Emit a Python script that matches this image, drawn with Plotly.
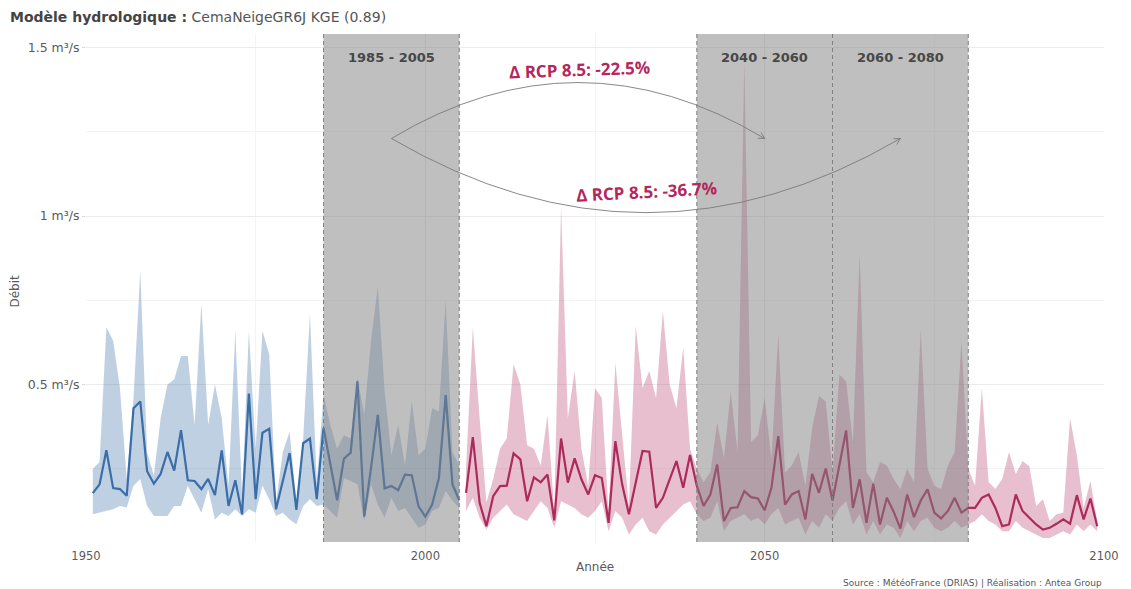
import math
import plotly.graph_objects as go

# ---------------- data ----------------
hist_years = list(range(1951, 2006))
hist_mean = [0.178, 0.204, 0.305, 0.193, 0.190, 0.170, 0.430, 0.450, 0.243, 0.206,
             0.235, 0.300, 0.245, 0.365, 0.216, 0.214, 0.190, 0.220, 0.172, 0.305,
             0.140, 0.216, 0.115, 0.473, 0.160, 0.357, 0.369, 0.130, 0.214, 0.297,
             0.128, 0.326, 0.340, 0.160, 0.372, 0.264, 0.157, 0.280, 0.298, 0.510,
             0.108, 0.253, 0.410, 0.192, 0.199, 0.187, 0.233, 0.231, 0.139, 0.108,
             0.144, 0.223, 0.469, 0.204, 0.157]
hist_upper = [0.25, 0.27, 0.67, 0.63, 0.49, 0.22, 0.46, 0.84, 0.30, 0.23,
              0.40, 0.50, 0.515, 0.585, 0.585, 0.38, 0.74, 0.38, 0.50, 0.40,
              0.20, 0.66, 0.17, 0.66, 0.31, 0.66, 0.59, 0.15, 0.30, 0.36,
              0.15, 0.34, 0.71, 0.21, 0.47, 0.38, 0.31, 0.35, 0.34, 0.52,
              0.41, 0.63, 0.79, 0.48, 0.29, 0.38, 0.26, 0.45, 0.29, 0.31,
              0.43, 0.42, 0.75, 0.30, 0.26]
hist_lower = [0.115, 0.12, 0.125, 0.13, 0.14, 0.135, 0.20, 0.22, 0.14, 0.11,
              0.11, 0.11, 0.14, 0.14, 0.20, 0.16, 0.12, 0.19, 0.10, 0.12,
              0.11, 0.13, 0.11, 0.13, 0.12, 0.20, 0.16, 0.11, 0.12, 0.10,
              0.086, 0.14, 0.16, 0.14, 0.144, 0.125, 0.105, 0.223, 0.214, 0.204,
              0.095, 0.204, 0.144, 0.105, 0.164, 0.125, 0.134, 0.105, 0.075, 0.085,
              0.125, 0.134, 0.184, 0.155, 0.134]

proj_years = list(range(2006, 2100))
proj_mean = [0.179, 0.344, 0.149, 0.080, 0.169, 0.199, 0.200, 0.296, 0.278, 0.154,
             0.225, 0.210, 0.233, 0.097, 0.340, 0.209, 0.281, 0.219, 0.174, 0.231,
             0.223, 0.090, 0.332, 0.204, 0.115, 0.204, 0.303, 0.301, 0.134, 0.164,
             0.219, 0.273, 0.194, 0.291, 0.200, 0.140, 0.174, 0.263, 0.095, 0.134,
             0.136, 0.184, 0.166, 0.162, 0.127, 0.194, 0.347, 0.144, 0.174, 0.184,
             0.100, 0.235, 0.179, 0.251, 0.156, 0.258, 0.364, 0.134, 0.219, 0.090,
             0.206, 0.085, 0.164, 0.123, 0.073, 0.174, 0.107, 0.156, 0.189, 0.120,
             0.103, 0.125, 0.164, 0.120, 0.134, 0.134, 0.164, 0.174, 0.134, 0.080,
             0.085, 0.174, 0.125, 0.105, 0.085, 0.070, 0.075, 0.087, 0.100, 0.087,
             0.172, 0.100, 0.162, 0.080]
proj_upper = [0.25, 0.67, 0.40, 0.15, 0.22, 0.31, 0.34, 0.56, 0.50, 0.32,
              0.31, 0.26, 0.41, 0.12, 1.03, 0.40, 0.54, 0.31, 0.20, 0.49,
              0.46, 0.12, 0.565, 0.36, 0.14, 0.674, 0.49, 0.54, 0.46, 0.718,
              0.50, 0.43, 0.61, 0.31, 0.25, 0.21, 0.24, 0.387, 0.283, 0.48,
              0.30, 1.46, 0.33, 0.35, 0.46, 0.28, 0.649, 0.24, 0.26, 0.30,
              0.20, 0.372, 0.466, 0.45, 0.24, 0.53, 0.51, 0.33, 0.89, 0.24,
              0.21, 0.27, 0.26, 0.22, 0.19, 0.25, 0.21, 0.664, 0.25, 0.20,
              0.19, 0.26, 0.30, 0.63, 0.25, 0.20, 0.49, 0.21, 0.19, 0.22,
              0.30, 0.234, 0.273, 0.258, 0.14, 0.16, 0.095, 0.115, 0.12, 0.40,
              0.29, 0.134, 0.214, 0.095]
proj_lower = [0.125, 0.164, 0.105, 0.070, 0.105, 0.125, 0.144, 0.115, 0.105, 0.095,
              0.125, 0.154, 0.134, 0.075, 0.154, 0.144, 0.134, 0.115, 0.105, 0.125,
              0.154, 0.065, 0.125, 0.105, 0.055, 0.085, 0.105, 0.065, 0.055, 0.085,
              0.105, 0.125, 0.144, 0.154, 0.115, 0.095, 0.105, 0.154, 0.065, 0.095,
              0.105, 0.115, 0.095, 0.105, 0.085, 0.115, 0.134, 0.085, 0.095, 0.105,
              0.055, 0.095, 0.075, 0.115, 0.095, 0.134, 0.154, 0.085, 0.115, 0.055,
              0.095, 0.055, 0.085, 0.075, 0.045, 0.095, 0.065, 0.095, 0.105, 0.075,
              0.065, 0.075, 0.095, 0.075, 0.085, 0.095, 0.115, 0.095, 0.085, 0.065,
              0.065, 0.095, 0.075, 0.065, 0.055, 0.045, 0.045, 0.055, 0.065, 0.055,
              0.085, 0.065, 0.085, 0.065]

period_start = [1985, 2040, 2060]
period_end = [2005, 2060, 2080]
period_labels = ["1985 - 2005", "2040 - 2060", "2060 - 2080"]

x_ticks = [1950, 2000, 2050, 2100]
x_ticktext = ["1950", "2000", "2050", "2100"]
y_ticks = [0.5, 1.0, 1.5]
y_ticktext = ["0.5 m³/s", "1 m³/s", "1.5 m³/s"]

delta_labels = ["Δ RCP 8.5: -22.5%", "Δ RCP 8.5: -36.7%"]

# ---------------- style / layout constants ----------------
W, H = 1131, 589
ML, MR, MT, MB = 86, 17, 34, 47
X_RANGE = [1950, 2100]
Y_RANGE = [0.033, 1.54]
PW, PH = W - ML - MR, H - MT - MB
PX_PER_X = PW / (X_RANGE[1] - X_RANGE[0])
PX_PER_Y = PH / (Y_RANGE[1] - Y_RANGE[0])

BLUE = "#3a6ea8"
BLUE_FILL = "rgba(58,110,168,0.32)"
RED = "#ad2a5c"
RED_FILL = "rgba(176,42,92,0.30)"
TXT_RED = "#b5275c"
FONT = "DejaVu Sans"

fig = go.Figure()


def add_band(x, lo, hi, mid, line_col, fill_col):
    fig.add_trace(go.Scatter(x=x, y=lo, mode="lines", line=dict(width=0, color=fill_col),
                             hoverinfo="skip", showlegend=False))
    fig.add_trace(go.Scatter(x=x, y=hi, mode="lines", line=dict(width=0, color=fill_col),
                             fill="tonexty", fillcolor=fill_col, hoverinfo="skip", showlegend=False))
    fig.add_trace(go.Scatter(x=x, y=mid, mode="lines", line=dict(width=2.2, color=line_col),
                             showlegend=False))


add_band(hist_years, hist_lower, hist_upper, hist_mean, BLUE, BLUE_FILL)
add_band(proj_years, proj_lower, proj_upper, proj_mean, RED, RED_FILL)

shapes = []
# grey period rectangles (drawn above data)
for s, e in zip(period_start, period_end):
    shapes.append(dict(type="rect", xref="x", yref="paper", x0=s, x1=e, y0=0, y1=1,
                       fillcolor="rgba(127,127,127,0.5)", line=dict(width=0), layer="above"))
# dashed boundaries
for xv in sorted(set(period_start + period_end)):
    shapes.append(dict(type="line", xref="x", yref="paper", x0=xv, x1=xv, y0=0, y1=1,
                       line=dict(color="#7f7f7f", width=1, dash="4px,3px"), layer="above"))

# curved arrows
ARROW_Y = 1.23
start_x = (period_start[0] + period_end[0]) / 2
ends = [((period_start[1] + period_end[1]) / 2, 1.396),
        ((period_start[2] + period_end[2]) / 2, 1.010)]
annotations = []
for (ex, ext_y) in ends:
    cx = (start_x + ex) / 2
    cy = 2 * ext_y - ARROW_Y
    shapes.append(dict(type="path", xref="x", yref="y",
                       path=f"M {start_x},{ARROW_Y} Q {cx},{cy} {ex},{ARROW_Y}",
                       line=dict(color="#7a7a7a", width=0.9), layer="above"))
    # open arrow head
    dxp = (ex - cx) * PX_PER_X
    dyp = (ARROW_Y - cy) * PX_PER_Y
    n = math.hypot(dxp, dyp)
    ux, uy = dxp / n, dyp / n
    L = 7
    pts = []
    for ang in (math.radians(28), -math.radians(28)):
        rx = ux * math.cos(ang) - uy * math.sin(ang)
        ry = ux * math.sin(ang) + uy * math.cos(ang)
        pts.append((ex - L * rx / PX_PER_X, ARROW_Y - L * ry / PX_PER_Y))
    shapes.append(dict(type="path", xref="x", yref="y",
                       path=f"M {pts[0][0]},{pts[0][1]} L {ex},{ARROW_Y} L {pts[1][0]},{pts[1][1]}",
                       line=dict(color="#7a7a7a", width=0.9), layer="above"))

# delta labels
annotations.append(dict(x=2022.65, y=1.436, xref="x", yref="y", text=f"<b>{delta_labels[0]}</b>",
                        showarrow=False, textangle=-2, xanchor="center", yanchor="middle",
                        font=dict(family="Open Sans", size=17, color=TXT_RED)))
annotations.append(dict(x=2032.6, y=1.074, xref="x", yref="y", text=f"<b>{delta_labels[1]}</b>",
                        showarrow=False, textangle=-3, xanchor="center", yanchor="middle",
                        font=dict(family="Open Sans", size=17, color=TXT_RED)))

# period labels
for s, e, lab in zip(period_start, period_end, period_labels):
    annotations.append(dict(x=(s + e) / 2, y=0.953, xref="x", yref="paper", text=f"<b>{lab}</b>",
                            showarrow=False, xanchor="center", yanchor="middle",
                            font=dict(family=FONT, size=13, color="#474747")))

# axis titles and caption
annotations.append(dict(x=0.5, y=-0.049, xref="paper", yref="paper", text="Année", showarrow=False,
                        xanchor="center", yanchor="middle", font=dict(family=FONT, size=12, color="#5a5a5a")))
annotations.append(dict(x=-0.0693, y=0.494, xref="paper", yref="paper", text="Débit", showarrow=False,
                        xanchor="center", yanchor="middle",
                        textangle=-90, font=dict(family=FONT, size=12, color="#5a5a5a")))
annotations.append(dict(x=1.0, y=-0.0807, xref="paper", yref="paper", xanchor="right", yanchor="middle",
                        text="Source : MétéoFrance (DRIAS) | Réalisation : Antea Group", showarrow=False,
                        font=dict(family=FONT, size=9, color="#555555")))

fig.update_layout(
    width=W, height=H, autosize=False,
    margin=dict(l=ML, r=MR, t=MT, b=MB, pad=0),
    paper_bgcolor="white", plot_bgcolor="white",
    font=dict(family=FONT, color="#555555"),
    title=dict(text="<b>Modèle hydrologique :</b> <span style='color:#555555'>CemaNeigeGR6J KGE (0.89)</span>",
               x=10 / W, xanchor="left", xref="container",
               y=1 - 17 / H, yanchor="middle", yref="container",
               font=dict(family=FONT, size=14, color="#444444")),
    shapes=shapes,
    annotations=annotations,
    showlegend=False,
    xaxis=dict(range=X_RANGE, tickvals=x_ticks, ticktext=x_ticktext, showgrid=True,
               gridcolor="#ebebeb", gridwidth=1, zeroline=False, showline=False,
               ticks="outside", ticklen=3, tickcolor="rgba(0,0,0,0)",
               tickfont=dict(family=FONT, size=11.5, color="#5a5a5a"),
               minor=dict(tickvals=[1975, 2025, 2075], showgrid=True, gridcolor="#f4f4f4", ticks=""),
               fixedrange=True),
    yaxis=dict(range=Y_RANGE, tickvals=y_ticks, ticktext=y_ticktext, showgrid=True,
               gridcolor="#ebebeb", gridwidth=1, zeroline=False, showline=False,
               ticks="outside", ticklen=3, tickcolor="#d9d9d9",
               tickfont=dict(family=FONT, size=12.5, color="#5a5a5a"),
               minor=dict(tickvals=[0.25, 0.75, 1.25], showgrid=True, gridcolor="#f4f4f4", ticks=""),
               fixedrange=True),
)

fig.write_html("out.html", config={"displayModeBar": False},
               post_script="document.body.style.margin='0';")
